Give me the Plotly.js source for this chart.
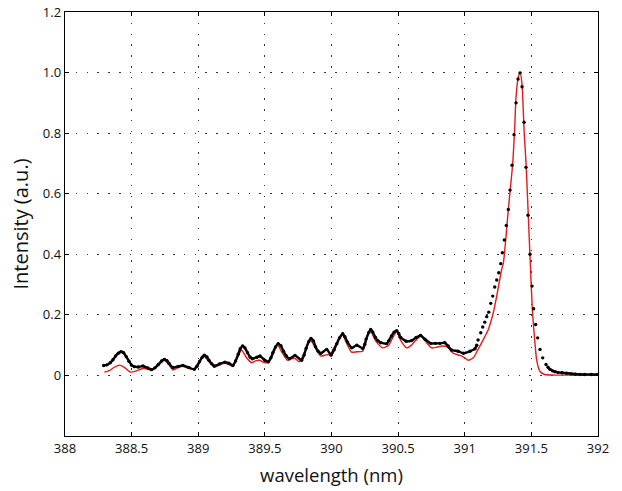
<!DOCTYPE html>
<html>
<head>
<meta charset="utf-8">
<script src="https://cdn.plot.ly/plotly-3.0.1.min.js"></script>
<style>html,body{margin:0;padding:0;background:#fff;}#chart{width:622px;height:491px;}</style>
</head>
<body>
<div id="chart"></div>
<script>
// Measured spectrum (black dots) – baseline region
const measBaseX = [388.29,388.315,388.34,388.36,388.38,388.40,388.42,388.44,388.46,388.48,388.50,388.52,388.55,388.585,388.62,388.65,388.675,388.70,388.725,388.745,388.765,388.78,388.81,388.85,388.885,388.93,388.97,388.99,389.01,389.03,389.045,389.065,389.08,389.10,389.12,389.16,389.20,389.23,389.26,389.28,389.30,389.315,389.333,389.35,389.37,389.39,389.405,389.44,389.463,389.50,389.525,389.545,389.56,389.58,389.60,389.62,389.64,389.66,389.683,389.726,389.776,389.795,389.81,389.83,389.846,389.865,389.88,389.90,389.92,389.964,389.996,390.02,390.04,390.06,390.084,390.10,390.12,390.152,390.19,390.234,390.25,390.26,390.28,390.294,390.31,390.33,390.35,390.369,390.414,390.43,390.45,390.47,390.489,390.505,390.52,390.56,390.60,390.635,390.669,390.70,390.744,390.78,390.814,390.85,390.875,390.90,390.95,390.99,391.04,391.077,391.09];
const measBaseY = [0.033,0.035,0.042,0.052,0.064,0.073,0.078,0.075,0.062,0.047,0.034,0.029,0.028,0.031,0.025,0.019,0.025,0.036,0.048,0.053,0.049,0.040,0.026,0.030,0.033,0.026,0.020,0.030,0.046,0.060,0.067,0.061,0.050,0.039,0.031,0.038,0.044,0.040,0.033,0.048,0.070,0.088,0.097,0.091,0.075,0.060,0.055,0.060,0.064,0.050,0.045,0.058,0.075,0.094,0.105,0.098,0.080,0.065,0.055,0.066,0.050,0.068,0.090,0.112,0.122,0.114,0.095,0.080,0.073,0.086,0.067,0.085,0.105,0.124,0.138,0.128,0.110,0.091,0.100,0.089,0.103,0.120,0.142,0.152,0.143,0.125,0.114,0.108,0.105,0.115,0.130,0.143,0.148,0.138,0.125,0.113,0.115,0.125,0.132,0.120,0.106,0.106,0.106,0.108,0.097,0.084,0.080,0.073,0.080,0.088,0.100];
// Measured spectrum – main N2+ band head
const measPeakX = [391.10,391.12,391.135,391.15,391.165,391.18,391.195,391.21,391.225,391.24,391.255,391.27,391.282,391.297,391.312,391.327,391.34,391.355,391.37,391.385,391.40,391.415,391.43,391.445,391.46,391.475,391.49,391.505,391.517,391.532,391.547,391.565,391.585,391.61];
const measPeakY = [0.117,0.141,0.160,0.176,0.194,0.209,0.238,0.262,0.292,0.315,0.339,0.369,0.405,0.447,0.495,0.548,0.612,0.694,0.795,0.900,0.979,0.999,0.953,0.836,0.687,0.529,0.400,0.295,0.220,0.168,0.124,0.086,0.058,0.036];
// Measured spectrum – tail
const measTailX = [391.625,391.64,391.66,391.677,391.70,391.73,391.765,391.80,391.83,391.865,391.90,391.95,392.00];
const measTailY = [0.027,0.020,0.015,0.012,0.010,0.009,0.007,0.005,0.004,0.003,0.003,0.003,0.003];

// Simulated spectrum (red line)
const simX = [388.295,388.33,388.37,388.41,388.45,388.49,388.53,388.575,388.61,388.64,388.70,388.745,388.78,388.81,388.85,388.885,388.92,388.96,389.00,389.04,389.08,389.12,389.16,389.20,389.23,389.26,389.29,389.325,389.36,389.40,389.43,389.46,389.50,389.53,389.56,389.595,389.63,389.67,389.70,389.726,389.76,389.80,389.84,389.88,389.92,389.96,389.99,390.03,390.08,390.115,390.15,390.19,390.234,390.26,390.29,390.33,390.385,390.43,390.46,390.49,390.52,390.565,390.60,390.63,390.67,390.71,390.75,390.79,390.83,390.865,390.915,390.965,391.00,391.027,391.064,391.10,391.14,391.177,391.214,391.24,391.277,391.29,391.31,391.327,391.345,391.36,391.375,391.385,391.40,391.415,391.43,391.445,391.46,391.47,391.49,391.507,391.527,391.54,391.565,391.60,391.70,391.80,391.90,392.00];
const simY = [0.011,0.015,0.027,0.034,0.025,0.011,0.014,0.022,0.022,0.018,0.033,0.050,0.035,0.018,0.026,0.030,0.024,0.020,0.040,0.064,0.046,0.027,0.035,0.040,0.036,0.030,0.055,0.084,0.060,0.042,0.048,0.050,0.042,0.043,0.070,0.100,0.075,0.050,0.055,0.056,0.045,0.080,0.118,0.090,0.064,0.068,0.070,0.100,0.135,0.105,0.077,0.078,0.080,0.115,0.148,0.115,0.091,0.100,0.125,0.145,0.115,0.091,0.100,0.115,0.130,0.110,0.091,0.093,0.097,0.095,0.073,0.066,0.058,0.050,0.058,0.086,0.119,0.152,0.207,0.262,0.350,0.372,0.460,0.548,0.630,0.700,0.820,0.920,0.980,1.000,0.960,0.810,0.700,0.600,0.390,0.220,0.107,0.050,0.013,0.003,0.001,0.001,0.001,0.001];

const xTicks = [388,388.5,389,389.5,390,390.5,391,391.5,392];
const xTickText = ['388','388.5','389','389.5','390','390.5','391','391.5','392'];
const yTicks = [0,0.2,0.4,0.6,0.8,1.0,1.2];
const yTickText = ['0','0.2','0.4','0.6','0.8','1.0','1.2'];

const dotStyle = {color:'#000', size:3.4};
const traces = [
  {x:simX, y:simY, type:'scatter', mode:'lines', line:{color:'#e41a1c', width:1.4, shape:'spline', smoothing:0.6}, hoverinfo:'skip'},
  {x:measBaseX, y:measBaseY, type:'scatter', mode:'lines+markers', line:{color:'#000', width:2.4, shape:'spline', smoothing:0.5}, marker:dotStyle},
  {x:measPeakX, y:measPeakY, type:'scatter', mode:'markers', marker:dotStyle},
  {x:measTailX, y:measTailY, type:'scatter', mode:'lines+markers', line:{color:'#000', width:2.4}, marker:dotStyle}
];

const axisCommon = {
  showline:true, linecolor:'#000', linewidth:1.3, mirror:'ticks',
  ticks:'inside', ticklen:4, tickcolor:'#000', tickwidth:1,
  showgrid:true, gridcolor:'#333', gridwidth:1.2, griddash:'1.5px,9.3px',
  zeroline:false,
  tickfont:{family:'"Open Sans", sans-serif', size:13, color:'#111'}
};

const layout = {
  width:622, height:491,
  margin:{l:65, r:24, t:12, b:55},
  paper_bgcolor:'#fff', plot_bgcolor:'#fff',
  showlegend:false,
  xaxis:Object.assign({}, axisCommon, {
    range:[388,392], tickmode:'array', tickvals:xTicks, ticktext:xTickText,
    title:{text:'wavelength (nm)', font:{family:'"Open Sans", sans-serif', size:18.5, color:'#111'}, standoff:13}
  }),
  yaxis:Object.assign({}, axisCommon, {
    range:[-0.2,1.2], tickmode:'array', tickvals:yTicks, ticktext:yTickText,
    title:{text:'Intensity (a.u.)', font:{family:'"Open Sans", sans-serif', size:20, color:'#111'}, standoff:8}
  })
};

Plotly.newPlot('chart', traces, layout, {staticPlot:true, displayModeBar:false});
</script>
</body>
</html>
